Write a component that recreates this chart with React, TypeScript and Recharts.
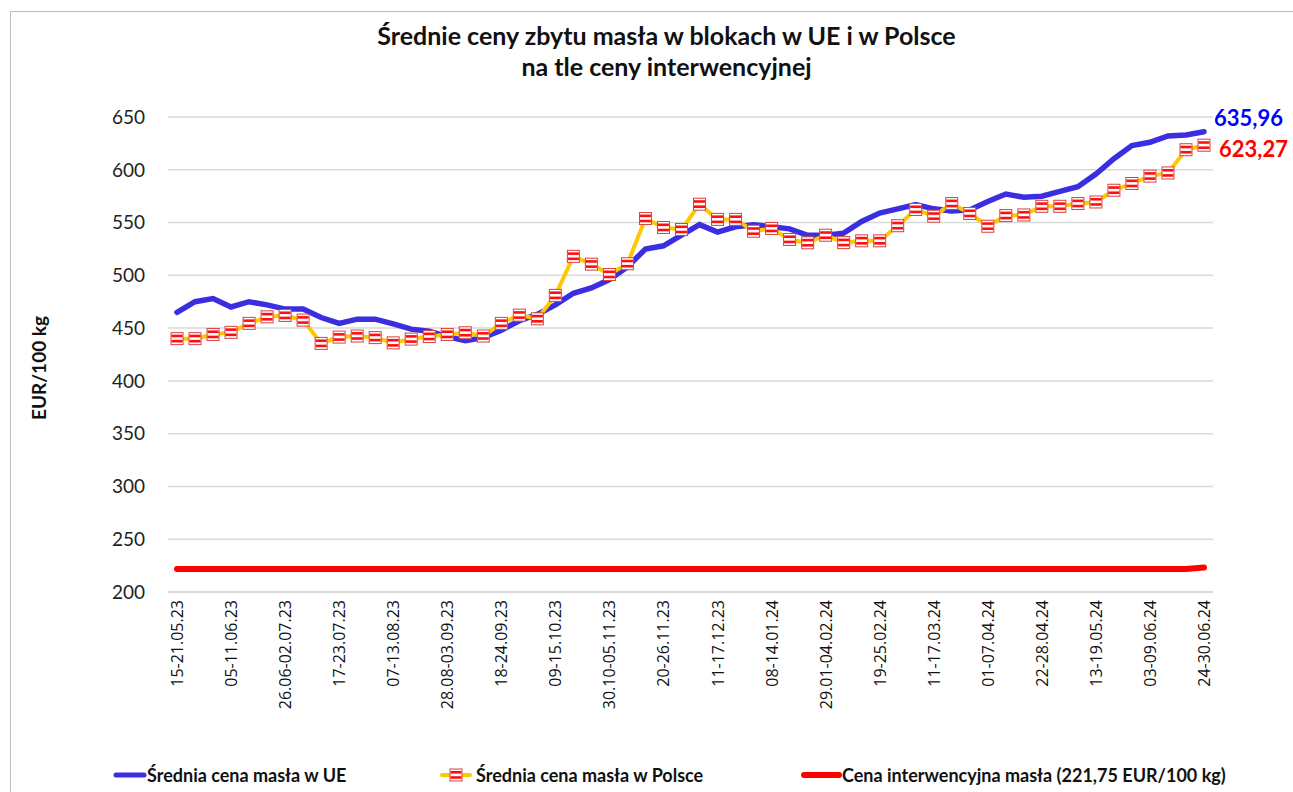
import { LineChart, Line, XAxis, YAxis, CartesianGrid, LabelList } from "recharts";

// weekly periods (the Christmas week 25-31.12.23 is not reported)
const weeks = [
  "15-21.05.23", "22-28.05.23", "29.05-04.06.23", "05-11.06.23", "12-18.06.23", "19-25.06.23",
  "26.06-02.07.23", "03-09.07.23", "10-16.07.23", "17-23.07.23", "24-30.07.23", "31.07-06.08.23",
  "07-13.08.23", "14-20.08.23", "21-27.08.23", "28.08-03.09.23", "04-10.09.23", "11-17.09.23",
  "18-24.09.23", "25.09-01.10.23", "02-08.10.23", "09-15.10.23", "16-22.10.23", "23-29.10.23",
  "30.10-05.11.23", "06-12.11.23", "13-19.11.23", "20-26.11.23", "27.11-03.12.23", "04-10.12.23",
  "11-17.12.23", "18-24.12.23", "01-07.01.24", "08-14.01.24", "15-21.01.24", "22-28.01.24",
  "29.01-04.02.24", "05-11.02.24", "12-18.02.24", "19-25.02.24", "26.02-03.03.24", "04-10.03.24",
  "11-17.03.24", "18-24.03.24", "25-31.03.24", "01-07.04.24", "08-14.04.24", "15-21.04.24",
  "22-28.04.24", "29.04-05.05.24", "06-12.05.24", "13-19.05.24", "20-26.05.24", "27.05-02.06.24",
  "03-09.06.24", "10-16.06.24", "17-23.06.24", "24-30.06.24",
];

const euPrice = [
  465, 475, 478, 470, 475, 472, 468, 468, 460, 454.5, 458.5, 458.5,
  454, 449, 447, 442, 438, 441, 448, 457, 463, 472, 483, 488,
  496, 508, 525, 528, 538, 548, 541, 546, 548, 546, 544, 538,
  538, 540, 551, 559, 563, 567, 563, 561, 562, 570, 577, 574,
  575, 579.5, 584, 596, 610.5, 623, 626, 632, 633, 635.96,
];

const plPrice = [
  440, 440, 444, 446, 454.5, 460.7, 462, 457.6, 435.5, 441.5, 442.5, 441,
  436, 439.6, 442, 444, 445.6, 442.5, 454.5, 462.3, 458.8, 481, 518, 510.6,
  500.8, 511, 553.8, 545.3, 543.4, 567.4, 553, 553, 541.8, 544.4, 534, 530.8,
  538, 531, 532.7, 532.7, 547, 562.4, 556, 568, 558.6, 546.5, 556.6, 557.2,
  565.4, 565.4, 568, 569.5, 580.6, 587, 594, 597, 619, 623.27,
];

const interventionPrice = [
  221.75, 221.75, 221.75, 221.75, 221.75, 221.75, 221.75, 221.75, 221.75, 221.75, 221.75, 221.75,
  221.75, 221.75, 221.75, 221.75, 221.75, 221.75, 221.75, 221.75, 221.75, 221.75, 221.75, 221.75,
  221.75, 221.75, 221.75, 221.75, 221.75, 221.75, 221.75, 221.75, 221.75, 221.75, 221.75, 221.75,
  221.75, 221.75, 221.75, 221.75, 221.75, 221.75, 221.75, 221.75, 221.75, 221.75, 221.75, 221.75,
  221.75, 221.75, 221.75, 221.75, 221.75, 221.75, 221.75, 221.75, 221.75, 223.2,
];

const yTicks = [200, 250, 300, 350, 400, 450, 500, 550, 600, 650];

const data = weeks.map((week, i) => ({
  week,
  eu: euPrice[i],
  pl: plPrice[i],
  interv: interventionPrice[i],
}));

const BLUE = "#3a2ee0";
const YELLOW = "#ffc800";
const RED = "#ff0000";
const last = weeks.length - 1;

const fmt = (v: number) => v.toFixed(2).replace(".", ",");

const StripedSquare = ({ cx, cy }: { cx: number; cy: number }) => (
  <g>
    <rect x={cx - 6} y={cy - 6} width={12} height={12} fill="#fff" stroke="#d84040" strokeWidth={1} />
    <rect x={cx - 5.5} y={cy - 4} width={11} height={2.6} fill="#ff1010" />
    <rect x={cx - 5.5} y={cy + 1.2} width={11} height={2.6} fill="#ff1010" />
  </g>
);

const XTick = ({ x, y, payload }: any) => (
  <text
    x={x}
    y={y}
    transform={`rotate(-90 ${x} ${y})`}
    textAnchor="end"
    dominantBaseline="central"
    fontSize={16}
    fontFamily="'Open Sans', sans-serif"
    fill="#111"
  >
    {payload.value}
  </text>
);

const endLabel = (color: string, dx: number, dy: number) => (props: any) => {
  const { x, y, index, value } = props;
  if (index !== last) return null;
  return (
    <text
      x={x + dx}
      y={y + dy}
      fill={color}
      fontSize={22}
      fontWeight="bold"
      fontFamily="Lato, sans-serif"
      dominantBaseline="central"
    >
      {fmt(value)}
    </text>
  );
};

const legendText: React.CSSProperties = {
  fontFamily: "Lato, sans-serif",
  fontWeight: "bold",
  fontSize: 18,
  color: "#111",
  whiteSpace: "nowrap",
};

export default function App() {
  return (
    <div style={{ position: "fixed", left: 0, top: 0, width: 1293, height: 792, background: "#fff", overflow: "hidden" }}>
      <div
        style={{
          position: "absolute",
          left: 10,
          top: 11,
          width: 1300,
          height: 800,
          borderLeft: "1.5px solid #bdbdbd",
          borderTop: "1.5px solid #bdbdbd",
        }}
      />
      <div
        style={{
          position: "absolute",
          left: 0,
          width: 1333,
          top: 20,
          textAlign: "center",
          fontFamily: "Lato, sans-serif",
          fontWeight: "bold",
          fontSize: 25,
          lineHeight: "31px",
          color: "#111",
        }}
      >
        Średnie ceny zbytu masła w blokach w UE i w Polsce
        <br />
        na tle ceny interwencyjnej
      </div>

      <div style={{ position: "absolute", left: 0, top: 0 }}>
        <LineChart width={1293} height={792} data={data} margin={{ top: 117, right: 80, bottom: 0, left: 18 }}>
          <CartesianGrid vertical={false} stroke="#d9d9d9" strokeWidth={1.5} />
          <XAxis
            dataKey="week"
            interval={2}
            height={200}
            tick={<XTick />}
            tickLine={false}
            tickMargin={2}
            axisLine={{ stroke: "#d9d9d9", strokeWidth: 1.5 }}
            padding={{ left: 9, right: 9 }}
          />
          <YAxis
            width={150}
            domain={[200, 650]}
            ticks={yTicks}
            tickLine={false}
            axisLine={false}
            tickMargin={17}
            tick={{ fontSize: 19, fill: "#222", fontFamily: "Lato, sans-serif" }}
            label={{
              content: () => (
                <text
                  x={38}
                  y={368}
                  transform="rotate(-90 38 368)"
                  textAnchor="middle"
                  dominantBaseline="central"
                  fontSize={19}
                  fontWeight="bold"
                  fontFamily="Lato, sans-serif"
                  fill="#111"
                >
                  EUR/100 kg
                </text>
              ),
            }}
          />
          <Line
            dataKey="interv"
            stroke={RED}
            strokeWidth={6}
            strokeLinecap="round"
            dot={false}
            isAnimationActive={false}
          />
          <Line
            dataKey="eu"
            stroke={BLUE}
            strokeWidth={5.5}
            strokeLinecap="round"
            dot={false}
            isAnimationActive={false}
          >
            <LabelList dataKey="eu" content={endLabel("#0000ff", 10, -14)} />
          </Line>
          <Line
            dataKey="pl"
            stroke={YELLOW}
            strokeWidth={4}
            dot={(p: any) => <StripedSquare key={`d${p.index}`} cx={p.cx} cy={p.cy} />}
            isAnimationActive={false}
          >
            <LabelList dataKey="pl" content={endLabel(RED, 15, 3)} />
          </Line>
        </LineChart>
      </div>

      <div style={{ position: "absolute", top: 764, left: 0, width: 1293, height: 24 }}>
        <div style={{ position: "absolute", left: 113, top: 0, display: "flex", alignItems: "center" }}>
          <svg width={34} height={22}>
            <line x1={3} y1={11} x2={31} y2={11} stroke={BLUE} strokeWidth={5} strokeLinecap="round" />
          </svg>
          <span style={legendText}>Średnia cena masła w UE</span>
        </div>
        <div style={{ position: "absolute", left: 440, top: 0, display: "flex", alignItems: "center" }}>
          <svg width={36} height={22}>
            <line x1={2} y1={11} x2={30} y2={11} stroke={YELLOW} strokeWidth={4} strokeLinecap="round" />
            <StripedSquare cx={16} cy={11} />
          </svg>
          <span style={legendText}>Średnia cena masła w Polsce</span>
        </div>
        <div style={{ position: "absolute", left: 800, top: 0, display: "flex", alignItems: "center" }}>
          <svg width={42} height={22}>
            <line x1={4} y1={11} x2={39} y2={11} stroke={RED} strokeWidth={6} strokeLinecap="round" />
          </svg>
          <span style={legendText}>Cena interwencyjna masła (221,75 EUR/100 kg)</span>
        </div>
      </div>
    </div>
  );
}
